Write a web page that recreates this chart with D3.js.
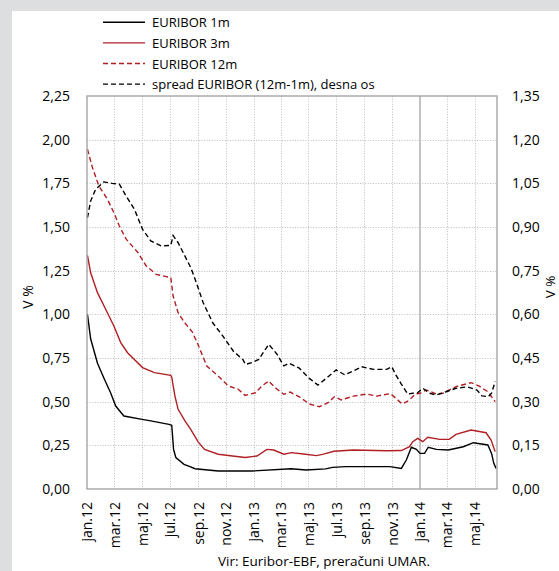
<!DOCTYPE html>
<html>
<head>
<meta charset="utf-8">
<script src="https://cdn.jsdelivr.net/npm/d3@7"></script>
<style>
  body { margin: 0; background: #dddee0; }
  svg { display: block; font-family: "Open Sans", sans-serif; }
</style>
</head>
<body>
<div id="chart"></div>
<script>

/////////////////////////////////////////////////////////////////////////////
                      ///////    Data    ///////
/////////////////////////////////////////////////////////////////////////////

const euribor1m = [
  ["2012-01-02",1.00],["2012-01-09",0.86],["2012-01-24",0.72],["2012-02-08",0.63],["2012-02-22",0.55],
  ["2012-03-04",0.475],["2012-03-22",0.418],["2012-04-28",0.40],["2012-05-20",0.39],["2012-06-29",0.37],
  ["2012-07-05",0.365],["2012-07-09",0.227],["2012-07-14",0.18],["2012-08-01",0.141],["2012-08-14",0.128],
  ["2012-08-25",0.116],["2012-10-15",0.103],["2012-12-28",0.103],["2013-03-24",0.116],["2013-04-26",0.109],
  ["2013-06-08",0.115],["2013-06-23",0.124],["2013-07-22",0.128],["2013-10-27",0.128],["2013-11-21",0.118],
  ["2013-12-02",0.166],["2013-12-13",0.239],["2013-12-24",0.227],["2014-01-01",0.204],["2014-01-11",0.204],
  ["2014-01-19",0.239],["2014-02-06",0.227],["2014-03-04",0.223],["2014-04-06",0.242],["2014-04-28",0.265],
  ["2014-05-16",0.258],["2014-05-30",0.252],["2014-06-07",0.204],["2014-06-12",0.147],["2014-06-17",0.118]
];

const euribor3m = [
  ["2012-01-02",1.338],["2012-01-09",1.238],["2012-01-24",1.124],["2012-02-11",1.029],["2012-02-29",0.933],
  ["2012-03-15",0.838],["2012-03-30",0.78],["2012-05-02",0.695],["2012-05-28",0.666],["2012-07-03",0.651],
  ["2012-07-05",0.64],["2012-07-12",0.532],["2012-07-19",0.456],["2012-08-03",0.39],["2012-08-16",0.34],
  ["2012-09-01",0.27],["2012-09-15",0.227],["2012-10-15",0.199],["2012-12-13",0.18],["2013-01-08",0.189],
  ["2013-01-30",0.227],["2013-02-14",0.223],["2013-03-08",0.199],["2013-03-25",0.208],["2013-04-20",0.20],
  ["2013-05-19",0.191],["2013-06-03",0.20],["2013-06-26",0.216],["2013-08-08",0.223],["2013-10-20",0.219],
  ["2013-11-21",0.22],["2013-12-09",0.242],["2013-12-16",0.271],["2013-12-27",0.29],["2014-01-07",0.271],
  ["2014-01-18",0.296],["2014-02-13",0.284],["2014-03-06",0.284],["2014-03-21",0.313],["2014-04-23",0.338],
  ["2014-05-26",0.322],["2014-06-06",0.28],["2014-06-15",0.214]
];

const euribor12m = [
  ["2012-01-02",1.945],["2012-01-13",1.84],["2012-01-27",1.735],["2012-02-15",1.658],["2012-02-29",1.582],
  ["2012-03-12",1.506],["2012-03-27",1.43],["2012-04-22",1.353],["2012-05-10",1.277],["2012-06-01",1.229],
  ["2012-07-03",1.21],["2012-07-08",1.105],["2012-07-19",1.009],["2012-08-03",0.95],["2012-08-19",0.90],
  ["2012-09-02",0.819],["2012-09-20",0.704],["2012-10-15",0.647],["2012-11-06",0.59],["2012-11-28",0.571],
  ["2012-12-13",0.536],["2013-01-05",0.551],["2013-01-19",0.59],["2013-02-03",0.618],["2013-02-17",0.58],
  ["2013-03-08",0.542],["2013-03-22",0.555],["2013-04-11",0.528],["2013-05-03",0.487],["2013-05-25",0.471],
  ["2013-06-13",0.494],["2013-06-27",0.528],["2013-07-12",0.51],["2013-08-08",0.532],["2013-09-06",0.544],
  ["2013-09-28",0.532],["2013-10-28",0.546],["2013-11-09",0.519],["2013-11-23",0.487],["2013-12-07",0.506],
  ["2013-12-22",0.544],["2014-01-01",0.548],["2014-01-15",0.567],["2014-02-06",0.544],["2014-02-20",0.548],
  ["2014-03-21",0.586],["2014-04-23",0.609],["2014-05-10",0.59],["2014-05-30",0.557],["2014-06-15",0.50]
];

// spread 12m-1m, right axis
const spread = [
  ["2012-01-02",0.932],["2012-01-09",0.989],["2012-01-20",1.03],["2012-02-07",1.055],["2012-02-25",1.05],
  ["2012-03-12",1.047],["2012-03-27",1.006],["2012-04-14",0.961],["2012-05-02",0.892],["2012-05-20",0.852],
  ["2012-06-12",0.835],["2012-07-03",0.837],["2012-07-08",0.871],["2012-07-19",0.846],["2012-08-03",0.80],
  ["2012-08-16",0.76],["2012-08-28",0.709],["2012-09-12",0.64],["2012-10-03",0.571],["2012-10-25",0.526],
  ["2012-11-17",0.474],["2012-12-08",0.445],["2012-12-14",0.428],["2012-12-28",0.434],["2013-01-12",0.445],
  ["2013-02-03",0.497],["2013-02-21",0.463],["2013-03-08",0.423],["2013-03-20",0.432],["2013-04-11",0.415],
  ["2013-05-03",0.38],["2013-05-22",0.357],["2013-06-09",0.38],["2013-07-01",0.409],["2013-07-20",0.392],
  ["2013-08-08",0.406],["2013-08-26",0.42],["2013-09-21",0.411],["2013-10-20",0.411],["2013-10-31",0.42],
  ["2013-11-09",0.392],["2013-11-20",0.363],["2013-12-05",0.326],["2013-12-16",0.329],["2013-12-26",0.33],
  ["2014-01-07",0.346],["2014-01-22",0.329],["2014-02-06",0.323],["2014-02-27",0.334],["2014-03-21",0.346],
  ["2014-04-15",0.351],["2014-05-06",0.34],["2014-05-17",0.32],["2014-05-31",0.317],["2014-06-07",0.329],
  ["2014-06-15",0.369]
];

const leftTicks = [0, 0.25, 0.5, 0.75, 1, 1.25, 1.5, 1.75, 2, 2.25];
const rightTicks = [0, 0.15, 0.3, 0.45, 0.6, 0.75, 0.9, 1.05, 1.2, 1.35];
const monthNames = ["jan", "feb", "mar", "apr", "maj", "jun", "jul", "avg", "sep", "okt", "nov", "dec"];
const xDomain = ["2012-01-01", "2014-06-19"];

const legendItems = ["EURIBOR 1m", "EURIBOR 3m", "EURIBOR 12m", "spread EURIBOR (12m-1m), desna os"];
const yTitle = "V %";
const sourceText = "Vir: Euribor-EBF, preračuni UMAR.";

/////////////////////////////////////////////////////////////////////////////
                      ///////    Drawing    ///////
/////////////////////////////////////////////////////////////////////////////

const W = 559, H = 571;
const m = { left: 87, right: 497, top: 96, bottom: 489 };
const red = "#b01f24";
const parse = d3.timeParse("%Y-%m-%d");
const fmt = v => d3.format(".2f")(v).replace(".", ",");

const svg = d3.select("#chart").append("svg").attr("width", W).attr("height", H);

// white panel
svg.append("rect").attr("x", 12).attr("y", 11).attr("width", W - 12).attr("height", H - 11).attr("fill", "#fff");

const x = d3.scaleTime().domain(xDomain.map(parse)).range([m.left, m.right]);
const yL = d3.scaleLinear().domain([0, 2.25]).range([m.bottom, m.top]);
const yR = d3.scaleLinear().domain([0, 1.35]).range([m.bottom, m.top]);

const xTicks = d3.timeMonth.every(2).range(parse("2012-01-01"), parse("2014-06-19"));

// grid
const grid = svg.append("g").attr("stroke", "#bdbdbd").attr("stroke-width", 1).attr("stroke-dasharray", "1,1.6");
grid.selectAll(".h").data(leftTicks.slice(1, -1)).join("line")
    .attr("x1", m.left).attr("x2", m.right)
    .attr("y1", d => Math.round(yL(d)) + 0.5).attr("y2", d => Math.round(yL(d)) + 0.5);
grid.selectAll(".v").data(xTicks.slice(1).filter(d => !(d.getFullYear() === 2014 && d.getMonth() === 0))).join("line")
    .attr("y1", m.top).attr("y2", m.bottom)
    .attr("x1", d => Math.round(x(d)) + 0.5).attr("x2", d => Math.round(x(d)) + 0.5);

// solid marker at jan.14
svg.append("line")
    .attr("x1", x(parse("2014-01-01"))).attr("x2", x(parse("2014-01-01")))
    .attr("y1", m.top).attr("y2", m.bottom)
    .attr("stroke", "#b4b4b4").attr("stroke-width", 1.6);

// series
const lineL = d3.line().x(d => x(parse(d[0]))).y(d => yL(d[1]));
const lineR = d3.line().x(d => x(parse(d[0]))).y(d => yR(d[1]));

const series = [
  { data: euribor1m, line: lineL, color: "#000", dash: null },
  { data: euribor3m, line: lineL, color: red, dash: null },
  { data: euribor12m, line: lineL, color: red, dash: "5,3" },
  { data: spread, line: lineR, color: "#000", dash: "5,3" }
];

series.forEach(s => {
  svg.append("path").datum(s.data)
     .attr("d", s.line)
     .attr("fill", "none")
     .attr("stroke", s.color)
     .attr("stroke-width", 1.4)
     .attr("stroke-dasharray", s.dash);
});

// plot border
svg.append("rect").attr("x", m.left).attr("y", m.top)
   .attr("width", m.right - m.left).attr("height", m.bottom - m.top)
   .attr("fill", "none").attr("stroke", "#a6a6a6").attr("stroke-width", 1.4);

// axes (labels only, Excel style)
const axL = svg.append("g").attr("transform", `translate(${m.left - 17},0)`)
    .call(d3.axisLeft(yL).tickValues(leftTicks).tickFormat(fmt).tickSize(0));
const axR = svg.append("g").attr("transform", `translate(${m.right + 15},0)`)
    .call(d3.axisRight(yR).tickValues(rightTicks).tickFormat(fmt).tickSize(0));
const axX = svg.append("g").attr("transform", `translate(0,${m.bottom + 13})`)
    .call(d3.axisBottom(x).tickValues(xTicks).tickSize(0)
      .tickFormat(d => monthNames[d.getMonth()] + "." + String(d.getFullYear()).slice(2)));

[axL, axR, axX].forEach(a => {
  a.select(".domain").remove();
  a.selectAll("text").attr("fill", "#000").style("font-size", "14px").style("font-family", "Open Sans");
});
axL.selectAll("text").attr("x", 0);
axR.selectAll("text").attr("x", 0);
axX.selectAll("text")
   .attr("transform", "rotate(-90)")
   .attr("text-anchor", "end")
   .attr("x", 0).attr("y", 0).attr("dy", "0.35em");

// axis titles
svg.append("text").attr("transform", "translate(33,297) rotate(-90)")
   .attr("text-anchor", "middle").style("font-size", "14px").text(yTitle);
svg.append("text").attr("transform", "translate(555,287) rotate(-90)")
   .attr("text-anchor", "middle").style("font-size", "13.5px").text(yTitle);

// legend
const legend = svg.append("g").selectAll("g").data(legendItems).join("g")
    .attr("transform", (d, i) => `translate(103,${22.3 + i * 20.6})`);
legend.append("line").attr("x1", 0).attr("x2", 42)
    .attr("stroke", (d, i) => series[i].color)
    .attr("stroke-width", 1.4)
    .attr("stroke-dasharray", (d, i) => series[i].dash);
legend.append("text").attr("x", 49).attr("y", 5).style("font-size", "13px").text(d => d);

// source
svg.append("text").attr("x", 324).attr("y", 566).attr("text-anchor", "middle")
   .style("font-size", "13.5px").text(sourceText);

</script>
</body>
</html>
